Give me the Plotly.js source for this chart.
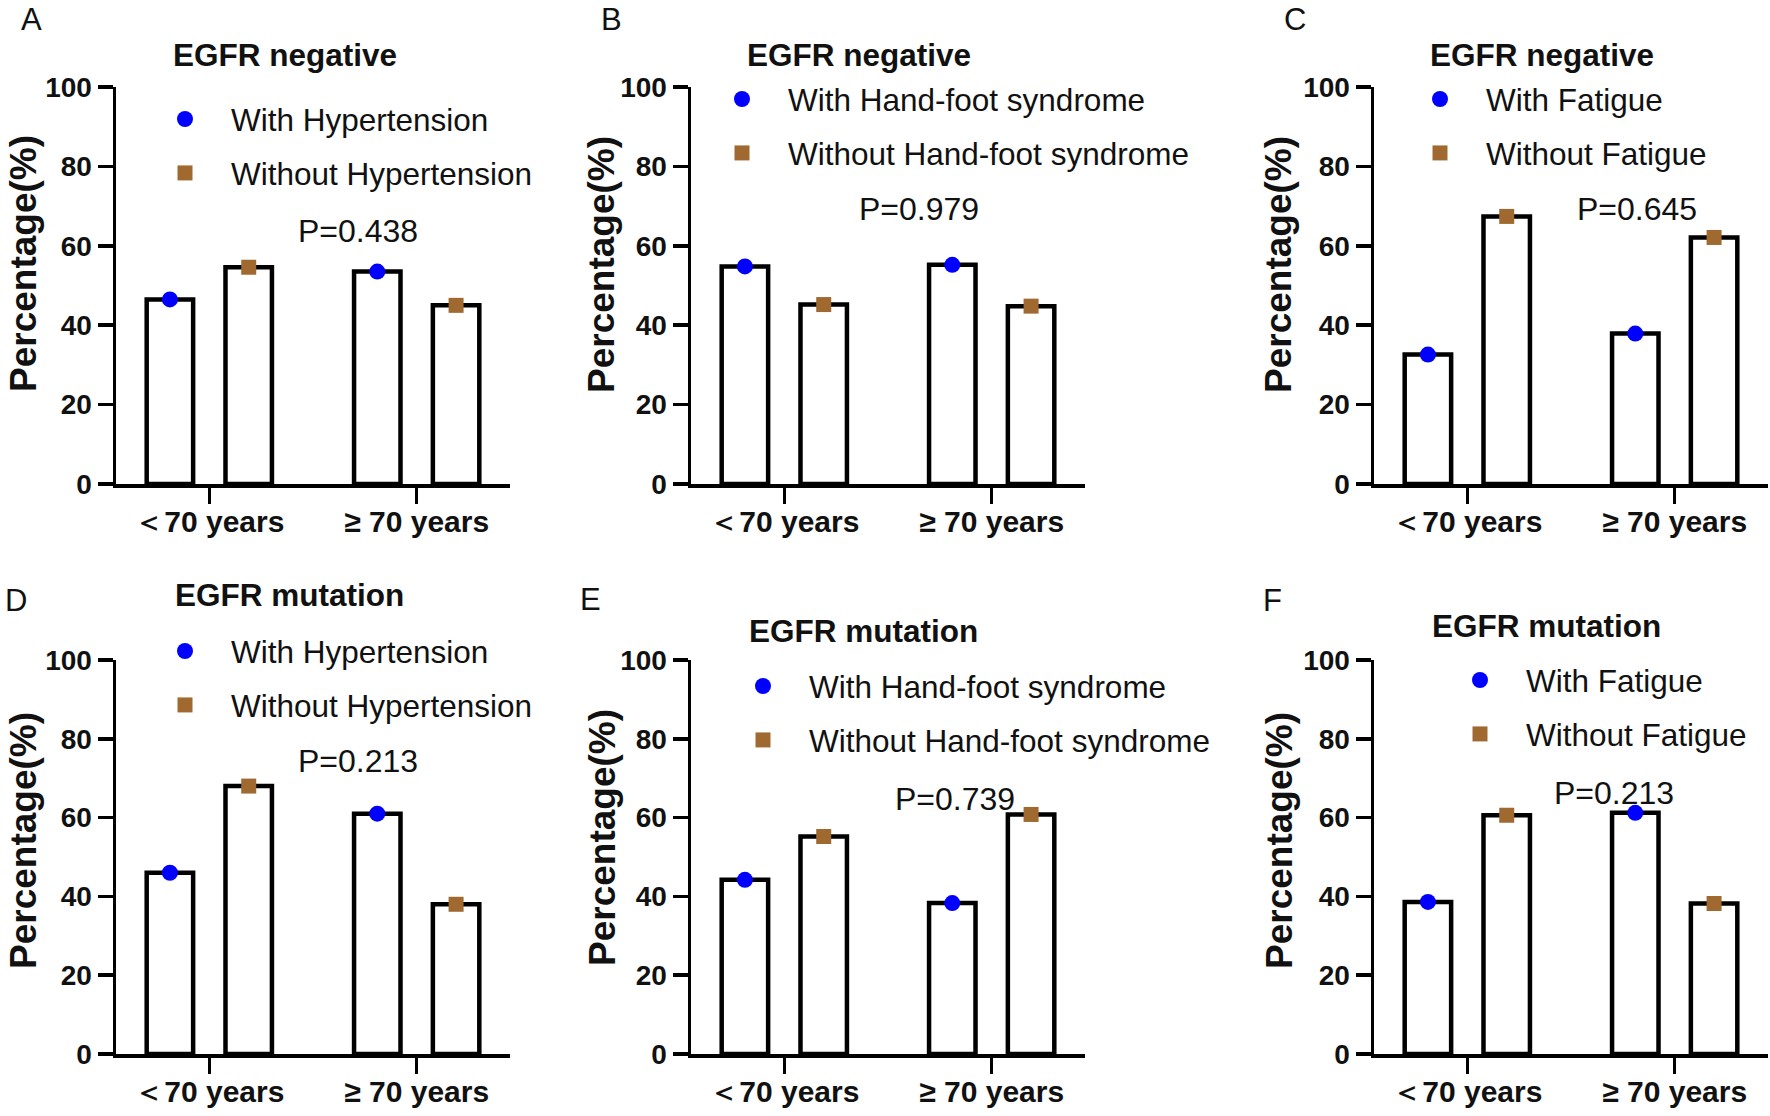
<!DOCTYPE html>
<html>
<head>
<meta charset="utf-8">
<script src="https://cdn.plot.ly/plotly-3.0.1.min.js"></script>
<style>html,body{margin:0;padding:0;background:#fff;}#chart{width:1770px;height:1116px;}</style>
</head>
<body>
<div id="chart"></div>
<script>
// ---------------- DATA ----------------
const categories = ['＜70 years', '≥ 70 years'];
const panelLetters = ['A', 'B', 'C', 'D', 'E', 'F'];
const panelTitles = ['EGFR negative', 'EGFR negative', 'EGFR negative', 'EGFR mutation', 'EGFR mutation', 'EGFR mutation'];
const withNames = ['With Hypertension', 'With Hand-foot syndrome', 'With Fatigue', 'With Hypertension', 'With Hand-foot syndrome', 'With Fatigue'];
const withoutNames = ['Without Hypertension', 'Without Hand-foot syndrome', 'Without Fatigue', 'Without Hypertension', 'Without Hand-foot syndrome', 'Without Fatigue'];
const pValues = ['P=0.438', 'P=0.979', 'P=0.645', 'P=0.213', 'P=0.739', 'P=0.213'];
const yTicks = [0, 20, 40, 60, 80, 100];
const yTitle = 'Percentage(%)';

// percentages, order: [<70 years, >=70 years]
const withA = [46.5, 53.5],  withoutA = [54.6, 45.0];
const withB = [54.8, 55.2],  withoutB = [45.2, 44.8];
const withC = [32.6, 37.9],  withoutC = [67.4, 62.1];
const withD = [46.0, 61.0],  withoutD = [68.0, 38.0];
const withE = [44.2, 38.3],  withoutE = [55.2, 60.8];
const withF = [38.6, 61.2],  withoutF = [60.6, 38.2];
const withSeries = [withA, withB, withC, withD, withE, withF];
const withoutSeries = [withoutA, withoutB, withoutC, withoutD, withoutE, withoutF];

// ---------------- LAYOUT / STYLE ----------------
const W = 1770, H = 1116;
const px = v => v / W;
const py = v => 1 - v / H;
const FONT = 'Arial, "Liberation Sans", sans-serif';
const TXT = '#111111';
const BLUE = '#0000FF';
const BROWN = '#A0692F';
const BAR_W = 0.224;      // bar width in category units
const GROUP_OFF = 0.19;   // centre offset of each bar from its category
const colX = [[116, 510], [691, 1085], [1374, 1768]];
const rowY = [[87, 484], [660, 1054]];  // [y of 100, y of 0]

const letterPos = [[31, 20], [611, 19], [1295, 19], [16, 600], [590, 599], [1272, 600]];
const titlePos = [[285, 55], [859, 55], [1542, 55], [289, 595], [863, 631], [1546, 626]];
const pPos = [[358, 231], [919, 209], [1637, 209], [358, 761], [955, 799], [1614, 793]];
const yTitlePos = [[23, 264], [602, 265], [1279, 265], [23, 841], [602, 838], [1279, 841]];
const legendPos = [[185, 120], [742, 100], [1440, 100], [185, 652], [763, 687], [1480, 681]];
const LEG_ITEMW = 82;

const traces = [];
const layout = {
  width: W, height: H,
  margin: {l: 0, r: 0, t: 0, b: 0},
  paper_bgcolor: '#ffffff', plot_bgcolor: 'rgba(0,0,0,0)',
  barmode: 'overlay',
  font: {family: FONT, color: TXT},
  annotations: [],
  showlegend: true
};

for (let i = 0; i < 6; i++) {
  const s = i === 0 ? '' : String(i + 1);
  const col = i % 3, row = Math.floor(i / 3);
  const xs = categories.map((c, k) => k);
  const legendId = 'legend' + s;

  traces.push({
    type: 'bar', x: xs, y: withSeries[i], xaxis: 'x' + s, yaxis: 'y' + s,
    width: BAR_W, offset: -GROUP_OFF - BAR_W / 2,
    marker: {color: '#ffffff', line: {color: '#000000', width: 4.5}},
    showlegend: false, hoverinfo: 'skip'
  });
  traces.push({
    type: 'bar', x: xs, y: withoutSeries[i], xaxis: 'x' + s, yaxis: 'y' + s,
    width: BAR_W, offset: GROUP_OFF - BAR_W / 2,
    marker: {color: '#ffffff', line: {color: '#000000', width: 4.5}},
    showlegend: false, hoverinfo: 'skip'
  });
  traces.push({
    type: 'scatter', mode: 'markers', name: withNames[i],
    x: xs.map(k => k - GROUP_OFF), y: withSeries[i], xaxis: 'x' + s, yaxis: 'y' + s,
    marker: {symbol: 'circle', color: BLUE, size: 16},
    cliponaxis: false, legend: legendId, legendgroup: 'w' + i
  });
  traces.push({
    type: 'scatter', mode: 'markers', name: withoutNames[i],
    x: xs.map(k => k + GROUP_OFF), y: withoutSeries[i], xaxis: 'x' + s, yaxis: 'y' + s,
    marker: {symbol: 'square', color: BROWN, size: 15},
    cliponaxis: false, legend: legendId, legendgroup: 'wo' + i
  });

  layout['xaxis' + s] = {
    domain: [px(colX[col][0]), px(colX[col][1])],
    anchor: 'y' + s, range: [-0.45, 1.45], fixedrange: true,
    tickmode: 'array', tickvals: xs, ticktext: categories,
    ticks: 'outside', ticklen: 16, tickwidth: 3.5, tickcolor: '#000',
    ticklabelstandoff: -8,
    showline: true, linewidth: 3.5, linecolor: '#000',
    showgrid: false, zeroline: false,
    tickfont: {family: FONT, size: 30, weight: 'bold', color: TXT}
  };
  layout['yaxis' + s] = {
    domain: [py(rowY[row][1]), py(rowY[row][0])],
    anchor: 'x' + s, range: [0, 100], fixedrange: true,
    tickmode: 'array', tickvals: yTicks,
    ticks: 'outside', ticklen: 15, tickwidth: 3.5, tickcolor: '#000',
    showline: true, linewidth: 3.5, linecolor: '#000',
    showgrid: false, zeroline: false,
    tickfont: {family: FONT, size: 28, weight: 'bold', color: TXT}
  };
  layout[legendId] = {
    x: px(legendPos[i][0] - (LEG_ITEMW / 2 + 5)), y: py(legendPos[i][1] - 28),
    xanchor: 'left', yanchor: 'top', bgcolor: 'rgba(0,0,0,0)', borderwidth: 0,
    itemwidth: LEG_ITEMW,
    tracegroupgap: 10, itemclick: false, itemdoubleclick: false,
    font: {family: FONT, size: 31.5, color: TXT}
  };

  layout.annotations.push({
    text: panelLetters[i], xref: 'paper', yref: 'paper',
    x: px(letterPos[i][0]), y: py(letterPos[i][1]), xanchor: 'center', yanchor: 'middle',
    showarrow: false, font: {family: FONT, size: 31, color: TXT}
  });
  layout.annotations.push({
    text: panelTitles[i], xref: 'paper', yref: 'paper',
    x: px(titlePos[i][0]), y: py(titlePos[i][1]), xanchor: 'center', yanchor: 'middle',
    showarrow: false, font: {family: FONT, size: 31.5, weight: 'bold', color: TXT}
  });
  layout.annotations.push({
    text: pValues[i], xref: 'paper', yref: 'paper',
    x: px(pPos[i][0]), y: py(pPos[i][1]), xanchor: 'center', yanchor: 'middle',
    showarrow: false, font: {family: FONT, size: 32, color: TXT}
  });
  layout.annotations.push({
    text: yTitle, xref: 'paper', yref: 'paper', textangle: -90,
    x: px(yTitlePos[i][0]), y: py(yTitlePos[i][1]), xanchor: 'center', yanchor: 'middle',
    showarrow: false, font: {family: FONT, size: 37, weight: 'bold', color: TXT}
  });
}

Plotly.newPlot('chart', traces, layout, {staticPlot: true, displayModeBar: false});
</script>
</body>
</html>
